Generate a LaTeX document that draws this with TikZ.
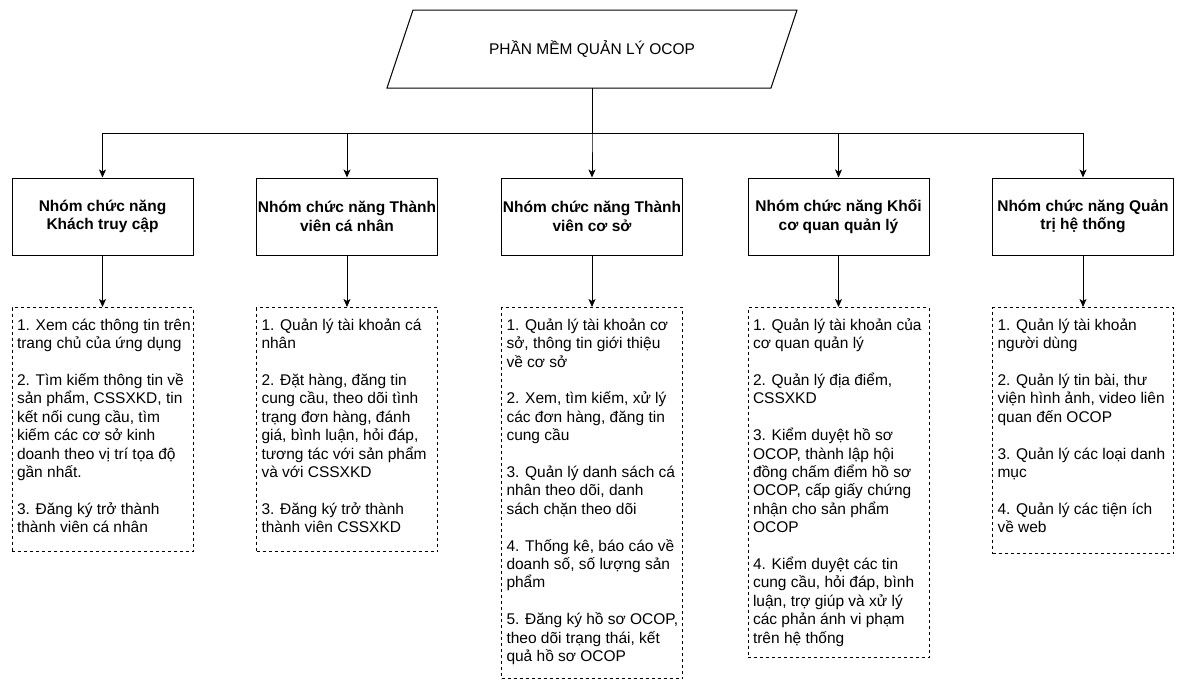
\documentclass[tikz,border=0pt]{standalone}
\usepackage{fontspec}
\setmainfont{Liberation Sans}
\usetikzlibrary{arrows.meta}
\newcommand{\itemgap}{\\[18.4pt]}
\tikzset{
  conn/.style={line width=1pt, -{Stealth[length=8pt,width=7pt,inset=2pt]}},
  groupbox/.style={draw, line width=1pt, minimum width=181pt, minimum height=77pt,
    inner sep=0pt, align=center, font=\fontsize{15.5}{18.4}\selectfont\bfseries},
  listbox/.style={draw, line width=1pt, dash pattern=on 3pt off 3pt, anchor=north,
    inner xsep=5pt, inner ysep=10pt, font=\fontsize{15.5}{18.4}\selectfont},
  titlenode/.style={minimum width=358pt, minimum height=78pt, inner sep=0pt,
    font=\fontsize{15.5}{18.4}\selectfont}
}
\newcommand{\listtext}[2]{\makebox[171pt][l]{\parbox[t][#1][t]{240pt}{\raggedright\strut #2}}}
\begin{document}
\begin{tikzpicture}[x=1pt, y=-1pt]
\useasboundingbox (0,0) rectangle (1182,680);
% title parallelogram
\draw[line width=1pt] (387,88) -- (413,10) -- (797,10) -- (771,88) -- cycle;
\node[titlenode] (title) at (592,49) {PHẦN MỀM QUẢN LÝ OCOP};
% group boxes
\node[groupbox] (g1) at (102.5,216.5) {Nhóm chức năng\\Khách truy cập};
\node[groupbox] (g2) at (347,216.5) {Nhóm chức năng Thành\\viên cá nhân};
\node[groupbox] (g3) at (592,216.5) {Nhóm chức năng Thành\\viên cơ sở};
\node[groupbox] (g4) at (838.5,216.5) {Nhóm chức năng Khối\\cơ quan quản lý};
\node[groupbox] (g5) at (1083,216.5) {Nhóm chức năng Quản\\trị hệ thống};
% list boxes
\node[listbox] (l1) at (102.5,307) {\listtext{224pt}{%
1. Xem các thông tin trên\\
trang chủ của ứng dụng\itemgap
2. Tìm kiếm thông tin về\\
sản phẩm, CSSXKD, tin\\
kết nối cung cầu, tìm\\
kiếm các cơ sở kinh\\
doanh theo vị trí tọa độ\\
gần nhất.\itemgap
3. Đăng ký trở thành\\
thành viên cá nhân}};
\node[listbox] (l2) at (347,307) {\listtext{224pt}{%
1. Quản lý tài khoản cá\\
nhân\itemgap
2. Đặt hàng, đăng tin\\
cung cầu, theo dõi tình\\
trạng đơn hàng, đánh\\
giá, bình luận, hỏi đáp,\\
tương tác với sản phẩm\\
và với CSSXKD\itemgap
3. Đăng ký trở thành\\
thành viên CSSXKD}};
\node[listbox] (l3) at (592,307) {\listtext{351pt}{%
1. Quản lý tài khoản cơ\\
sở, thông tin giới thiệu\\
về cơ sở\itemgap
2. Xem, tìm kiếm, xử lý\\
các đơn hàng, đăng tin\\
cung cầu\itemgap
3. Quản lý danh sách cá\\
nhân theo dõi, danh\\
sách chặn theo dõi\itemgap
4. Thống kê, báo cáo về\\
doanh số, số lượng sản\\
phẩm\itemgap
5. Đăng ký hồ sơ OCOP,\\
theo dõi trạng thái, kết\\
quả hồ sơ OCOP}};
\node[listbox] (l4) at (838.5,307) {\listtext{330pt}{%
1. Quản lý tài khoản của\\
cơ quan quản lý\itemgap
2. Quản lý địa điểm,\\
CSSXKD\itemgap
3. Kiểm duyệt hồ sơ\\
OCOP, thành lập hội\\
đồng chấm điểm hồ sơ\\
OCOP, cấp giấy chứng\\
nhận cho sản phẩm\\
OCOP\itemgap
4. Kiểm duyệt các tin\\
cung cầu, hỏi đáp, bình\\
luận, trợ giúp và xử lý\\
các phản ánh vi phạm\\
trên hệ thống}};
\node[listbox] (l5) at (1083,307) {\listtext{226pt}{%
1. Quản lý tài khoản\\
người dùng\itemgap
2. Quản lý tin bài, thư\\
viện hình ảnh, video liên\\
quan đến OCOP\itemgap
3. Quản lý các loại danh\\
mục\itemgap
4. Quản lý các tiện ích\\
về web}};
% connectors
\foreach \g in {g1,g2,g3,g4,g5}{
  \draw[conn] (title.south) -- ++(0,45) -| (\g.north);
}
\foreach \i in {1,2,3,4,5}{
  \draw[conn] (g\i.south) -- (l\i.north);
}
\end{tikzpicture}
\end{document}
